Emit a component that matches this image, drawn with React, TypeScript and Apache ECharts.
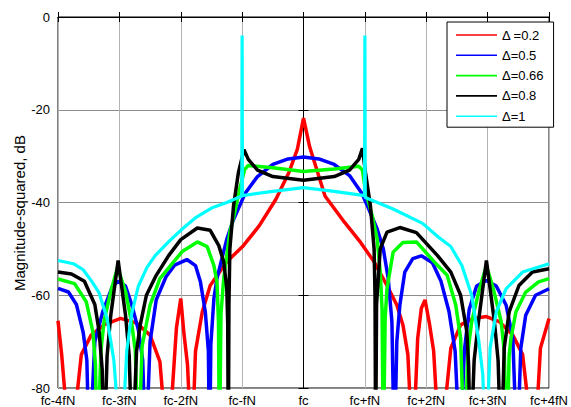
import React, { useEffect, useRef } from "react";
import * as echarts from "echarts";

// x in units of fN relative to fc; y in dB
const xTickLabels = ["fc-4fN", "fc-3fN", "fc-2fN", "fc-fN", "fc", "fc+fN", "fc+2fN", "fc+3fN", "fc+4fN"];
const seriesNames = ["Δ =0.2", "Δ=0.5", "Δ=0.66", "Δ=0.8", "Δ=1"];
const seriesColors = ["#ff0000", "#0000ff", "#00ff00", "#000000", "#00ffff"];

const red02 = [
  [-4.0, -65.5], [-3.94, -72.8], [-3.8, -95], [-3.62, -72.8], [-3.46, -68.6], [-3.25, -66.4], [-2.98, -65],
  [-2.72, -66], [-2.5, -68.6], [-2.34, -74.3], [-2.21, -95], [-2.07, -67], [-2.0, -60.7], [-1.95, -68],
  [-1.89, -75], [-1.82, -95], [-1.76, -72.1], [-1.65, -63.6], [-1.52, -57.9], [-1.25, -52.8], [-0.98, -49.3],
  [-0.72, -45], [-0.45, -39.3], [-0.24, -33.6], [-0.1, -28.5], [0, -21.8], [0.1, -28], [0.35, -38.6],
  [0.67, -44.3], [0.93, -48.6], [1.15, -52.8], [1.36, -57.9], [1.52, -62.1], [1.62, -66.4], [1.7, -72.8],
  [1.78, -95], [1.86, -69.3], [1.92, -62.8], [1.98, -61], [2.05, -66], [2.12, -72], [2.22, -95], [2.4, -71.4],
  [2.56, -66.4], [2.77, -65], [2.98, -64.6], [3.19, -65.7], [3.41, -68.6], [3.57, -72.8], [3.76, -95],
  [3.86, -71.4], [4.0, -65],
];

const blue05 = [
  [-4.0, -58.5], [-3.83, -59.3], [-3.7, -62], [-3.59, -68], [-3.53, -74], [-3.49, -95], [-3.4, -70],
  [-3.27, -63.5], [-3.11, -58], [-3.02, -57], [-2.9, -58], [-2.8, -62], [-2.69, -67.5], [-2.62, -74],
  [-2.57, -95], [-2.5, -70], [-2.4, -61], [-2.24, -56], [-2.1, -53.5], [-1.9, -52.3], [-1.76, -53.6],
  [-1.68, -57.1], [-1.6, -63.6], [-1.55, -72], [-1.53, -95], [-1.51, -70.7], [-1.46, -60.7], [-1.41, -56.4],
  [-1.33, -52.1], [-1.25, -47.9], [-1.15, -44], [-1.05, -41], [-0.95, -38], [-0.75, -34.4], [-0.5, -31.8],
  [-0.25, -30.6], [0, -30.2], [0.25, -30.6], [0.5, -31.8], [0.75, -34.2], [0.95, -38], [1.04, -40.7],
  [1.2, -45.7], [1.3, -50], [1.38, -56.4], [1.44, -65.7], [1.48, -95], [1.52, -70], [1.57, -62.1],
  [1.65, -55], [1.78, -52.1], [1.92, -51.5], [2.1, -53], [2.24, -57], [2.37, -63.5], [2.47, -72],
  [2.55, -95], [2.62, -72], [2.7, -63], [2.82, -58], [2.98, -56.8], [3.14, -58], [3.3, -62.1],
  [3.41, -69.3], [3.48, -95], [3.54, -71.4], [3.62, -64.3], [3.78, -60], [4.0, -58.6],
];

const green066 = [
  [-4.0, -56.5], [-3.73, -57.5], [-3.54, -61.4], [-3.43, -68], [-3.39, -75], [-3.36, -95], [-3.3, -72],
  [-3.25, -65.6], [-3.14, -59.2], [-3.03, -54], [-2.9, -59.2], [-2.8, -66], [-2.74, -72], [-2.69, -95],
  [-2.63, -71], [-2.5, -62.1], [-2.34, -56.4], [-2.13, -53], [-1.97, -50.5], [-1.73, -48.5], [-1.57, -49.5],
  [-1.46, -53.6], [-1.41, -57.1], [-1.385, -66], [-1.37, -95], [-1.345, -64], [-1.3, -56.4], [-1.25, -51.4],
  [-1.2, -46.4], [-1.12, -42.1], [-1.04, -37.1], [-0.96, -32.9], [-0.9, -32], [-0.5, -32.5], [0, -33.3],
  [0.5, -32.8], [0.9, -32.2], [0.96, -33], [1.01, -37.5], [1.12, -42.9], [1.2, -47.9], [1.25, -55],
  [1.28, -63], [1.3, -95], [1.33, -65], [1.36, -58.6], [1.46, -50.7], [1.62, -48.6], [1.84, -48.5],
  [2.13, -52.8], [2.34, -55.7], [2.48, -62.1], [2.56, -69.3], [2.62, -95], [2.68, -72], [2.74, -65.7],
  [2.86, -59], [2.98, -53.6], [3.1, -59], [3.22, -65.7], [3.27, -72], [3.31, -95], [3.35, -73],
  [3.38, -69.3], [3.46, -63.6], [3.62, -59.3], [3.83, -57.1], [4.0, -56.4],
];

const black08 = [
  [-4.0, -55], [-3.78, -55.4], [-3.57, -57], [-3.4, -62], [-3.33, -67.8], [-3.28, -76], [-3.25, -95],
  [-3.2, -73], [-3.14, -64.3], [-3.02, -52.5], [-2.9, -64.3], [-2.84, -73], [-2.79, -95], [-2.72, -72],
  [-2.66, -66.4], [-2.56, -60], [-2.4, -55.7], [-2.2, -51.5], [-2.0, -48], [-1.73, -45.5], [-1.52, -46],
  [-1.38, -49.3], [-1.3, -52.8], [-1.25, -58.6], [-1.235, -66], [-1.225, -95], [-1.215, -62], [-1.2, -50],
  [-1.14, -40.7], [-1.06, -33.5], [-0.97, -28.6], [-0.9, -30.7], [-0.75, -33], [-0.5, -34.4], [0, -35.2],
  [0.5, -34.4], [0.75, -33], [0.9, -30.7], [0.96, -28.3], [1.01, -33.6], [1.09, -40.7], [1.15, -50],
  [1.165, -60], [1.175, -95], [1.19, -62], [1.25, -50], [1.36, -46.4], [1.57, -45.4], [1.84, -46.5],
  [2.18, -51.4], [2.4, -55], [2.56, -60], [2.66, -67.8], [2.69, -75], [2.72, -95], [2.78, -74],
  [2.85, -65.7], [2.98, -52.5], [3.11, -65.7], [3.17, -74], [3.22, -95], [3.27, -71.4], [3.35, -63.6],
  [3.51, -57.9], [3.73, -55], [4.0, -54.3],
];

const cyan1 = [
  [-4.0, -52.5], [-3.75, -53.2], [-3.59, -54.5], [-3.45, -57], [-3.33, -59.5], [-3.2, -65], [-3.09, -74],
  [-2.97, -95], [-2.88, -72], [-2.8, -64], [-2.69, -58], [-2.55, -54], [-2.42, -51.5], [-2.2, -48.5],
  [-2.0, -46], [-1.75, -43.2], [-1.5, -41.2], [-1.25, -40], [-1.006, -38.6], [-1.0, -4], [-0.994, -38.5],
  [-0.5, -37.6], [0, -36.8], [0.5, -37.6], [0.994, -38.5], [1.0, -4], [1.006, -38.9], [1.46, -41.4],
  [1.94, -44.5], [2.2, -47.5], [2.4, -49.5], [2.58, -53.6], [2.74, -60], [2.85, -69.3], [2.92, -77],
  [2.97, -95], [3.04, -71.4], [3.14, -63.6], [3.3, -58.6], [3.57, -55], [4.0, -53.2],
];

const seriesData = [red02, blue05, green066, black08, cyan1];
const FONT = "'Liberation Sans', Arial, sans-serif";

export default function App() {
  const ref = useRef<HTMLDivElement>(null);
  useEffect(() => {
    document.body.style.margin = "0";
    if (!ref.current) return;
    const chart = echarts.init(ref.current, undefined, { renderer: "svg" });
    const axisCommon = {
      type: "value" as const,
      axisLine: { show: true, lineStyle: { color: "#000", width: 1 } },
      axisTick: { show: true, inside: true, length: 5, lineStyle: { color: "#000" } },
    };
    chart.setOption({
      animation: false,
      backgroundColor: "#fff",
      grid: { left: 58, right: 14, top: 17, bottom: 18, show: true, borderColor: "#000", borderWidth: 1 },
      xAxis: [
        {
          ...axisCommon,
          min: -4,
          max: 4,
          interval: 1,
          axisLabel: {
            margin: 6,
            fontSize: 13,
            fontFamily: FONT,
            color: "#000",
            formatter: (v: number) => xTickLabels[Math.round(v) + 4],
          },
          splitLine: { show: true, lineStyle: { color: "#b4b4b4", width: 1 } },
        },
        {
          ...axisCommon,
          position: "top",
          min: -4,
          max: 4,
          interval: 1,
          axisLabel: { show: false },
          splitLine: { show: false },
        },
      ],
      yAxis: [
        {
          ...axisCommon,
          min: -80,
          max: 0,
          interval: 20,
          axisLabel: { margin: 8, fontSize: 13, fontFamily: FONT, color: "#000" },
          splitLine: { show: true, lineStyle: { color: "#8c8c8c", width: 1 } },
        },
        {
          ...axisCommon,
          position: "right",
          min: -80,
          max: 0,
          interval: 20,
          axisLabel: { show: false },
          splitLine: { show: false },
        },
      ],
      legend: {
        orient: "vertical",
        left: 447,
        top: 22,
        icon: "rect",
        itemWidth: 41,
        itemHeight: 1.6,
        itemGap: 6.3,
        padding: [6, 10, 4, 9],
        backgroundColor: "#fff",
        borderColor: "#000",
        borderWidth: 1,
        borderRadius: 0,
        textStyle: { fontSize: 13, fontFamily: FONT, color: "#000", lineHeight: 14 },
        data: seriesNames,
      },
      graphic: [
        {
          type: "text",
          x: 19,
          y: 213,
          rotation: Math.PI / 2,
          style: {
            text: "Magnitude-squared, dB",
            fontSize: 15,
            fontFamily: FONT,
            fill: "#000",
            align: "center",
            verticalAlign: "middle",
          },
        },
      ],
      series: seriesNames.map((name, i) => ({
        name,
        type: "line",
        data: seriesData[i],
        symbol: "none",
        showSymbol: false,
        clip: true,
        color: seriesColors[i],
        lineStyle: { color: seriesColors[i], width: i === 4 ? 3.2 : 3.5, join: "bevel" },
        z: 2 + i,
      })),
    });
    return () => chart.dispose();
  }, []);
  return <div ref={ref} style={{ width: 571, height: 407 }} />;
}
